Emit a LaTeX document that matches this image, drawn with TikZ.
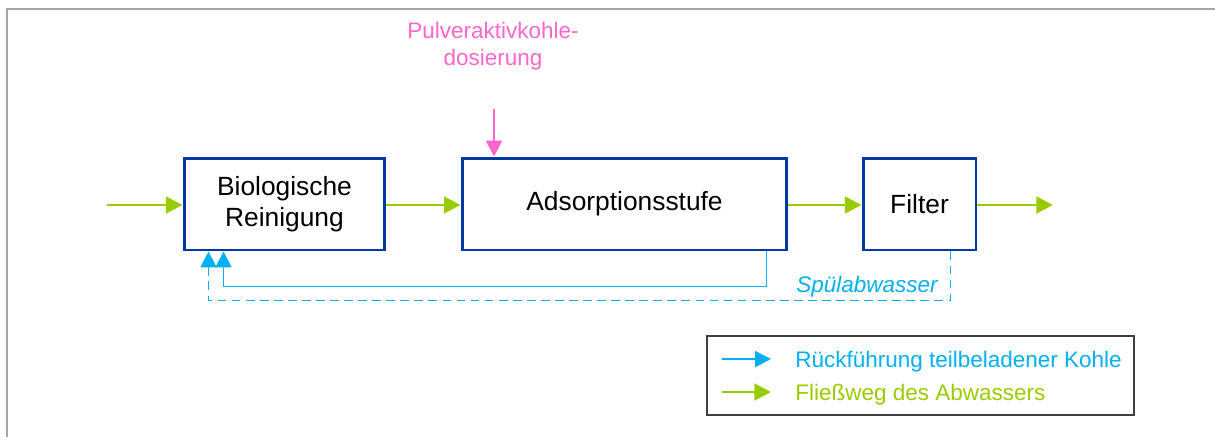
\documentclass[tikz,border=0pt]{standalone}
\usepackage{fontspec}
\setmainfont{Liberation Sans}
\usetikzlibrary{arrows.meta}
\definecolor{boxblue}{HTML}{0039A6}
\definecolor{flowgreen}{HTML}{99CC00}
\definecolor{backblue}{HTML}{00B0F0}
\definecolor{dosepink}{HTML}{FF66CC}
\begin{document}
\begin{tikzpicture}[x=0.02cm,y=-0.02cm,
    font=\fontsize{15}{17.6}\selectfont,
    stage/.style={draw=boxblue,line width=1.7pt,minimum height=1.84cm,align=center,inner sep=0pt},
    flow/.style={flowgreen,line width=1.6pt,-{Triangle[length=9.5pt,width=9.5pt]}},
    back/.style={backblue,line width=1.1pt,-{Triangle[length=9pt,width=9pt]}},
    rinse/.style={back,dash pattern=on 5pt off 3pt},
    small/.style={font=\fontsize{12.8}{15.3}\selectfont}]
            \useasboundingbox (0,0) rectangle (1215,437);
            \draw[color={rgb,255:red,166;green,166;blue,166},line width=1.1pt] (7,437) -- (7,9) -- (1215,9);
            \node (bio) [stage,minimum width=4.02cm] at (284.5,204) {Biologische\\Reinigung};
            \node (ads) [stage,minimum width=6.5cm] at (624.5,204) {Adsorptionsstufe};
            \node (fil) [stage,minimum width=2.26cm] at (919.5,204) {Filter};
            \coordinate (in) at (107,205);
            \coordinate (out) at (1053,205);
            \draw[flow] (in) -- (in -| bio.west);
            \draw[flow] (bio.east |- in) -- (ads.west |- in);
            \draw[flow] (ads.east |- in) -- (fil.west |- in);
            \draw[flow] (fil.east |- out) -- (out);
            % dosing
            \node (pak) [small,dosepink,align=center,anchor=base] at (493,65) {Pulveraktivkohle-\\dosierung};
            \coordinate (dose) at (494,109);
            \draw[dosepink,line width=1.4pt,-{Triangle[length=9pt,width=9pt]}] (dose) -- (dose |- ads.north);
            % return lines
            \draw[back] ([xshift=-0.44cm]ads.south east) |- ([xshift=0.82cm,yshift=-0.7cm]bio.south west) -- ([xshift=0.82cm]bio.south west);
            \draw[rinse] ([xshift=-0.54cm]fil.south east) |- ([xshift=0.52cm,yshift=-0.98cm]bio.south west) -- ([xshift=0.52cm]bio.south west);
            \node (rin) [small,backblue,font=\fontsize{12.8}{15.3}\selectfont\itshape,anchor=base east,inner sep=0pt] at (938,292.5) {Spülabwasser};
            % legend
            \node (leg) [draw={rgb,255:red,64;green,64;blue,64},line width=0.9pt,minimum width=8.54cm,minimum height=1.58cm,inner sep=0pt] at (920.5,375.5) {};
            \coordinate (l1) at (722,359);
            \coordinate (l2) at (771,359);
            \coordinate (l3) at (722,392);
            \coordinate (l4) at (771,392);
            \draw[back] (l1) -- (l2);
            \draw[flow] (l3) -- (l4);
            \node (lt1) [small,backblue,anchor=base west,inner sep=0pt] at (795,367) {Rückführung teilbeladener Kohle};
            \node (lt2) [small,flowgreen,anchor=base west,inner sep=0pt] at (795,400) {Fließweg des Abwassers};
        \end{tikzpicture}
\end{document}
